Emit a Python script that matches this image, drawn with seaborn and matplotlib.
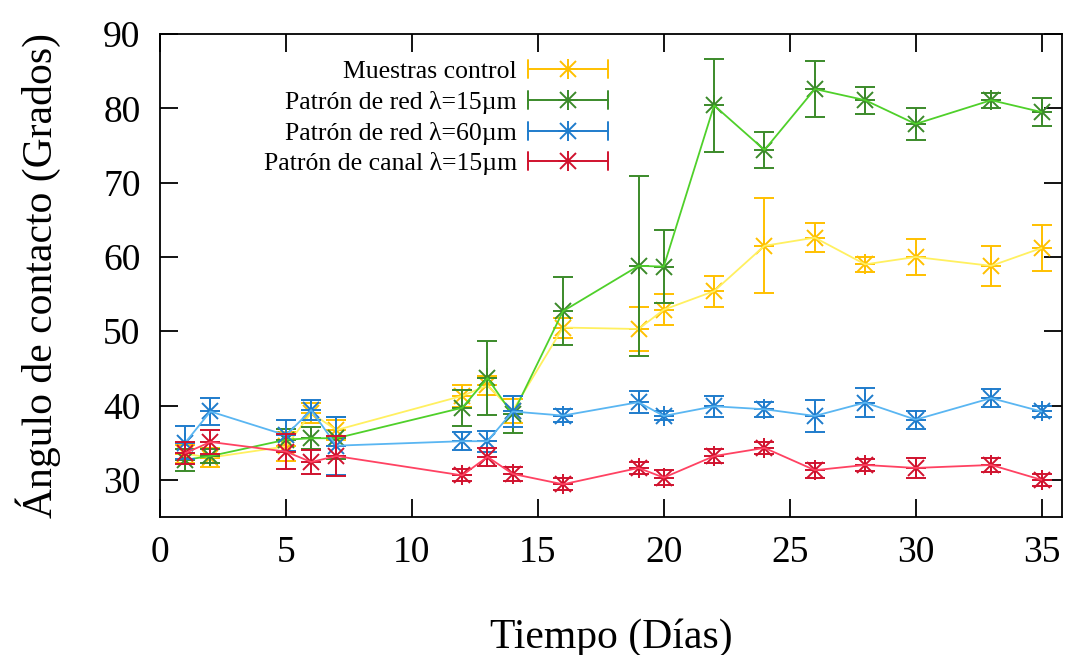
import matplotlib
matplotlib.use("Agg")
import numpy as np
import pandas as pd
import seaborn as sns
import matplotlib.pyplot as plt
from matplotlib.lines import Line2D
from matplotlib.legend_handler import HandlerBase

# ---------------- data ----------------
dias = [1, 2, 5, 6, 7, 12, 13, 14, 16, 19, 20, 22, 24, 26, 28, 30, 33, 35]

control_mean = [33.5, 33.0, 34.5, 39.0, 36.7, 41.3, 42.7, 39.3, 50.5, 50.3, 52.9, 55.4,
                61.5, 62.6, 59.0, 60.0, 58.8, 61.2]
control_err = [1.2, 1.25, 1.9, 1.4, 1.3, 1.5, 1.3, 1.6, 1.35, 2.95, 2.1, 2.1,
               6.4, 2.0, 1.0, 2.4, 2.7, 3.1]

red15_mean = [32.7, 33.2, 35.4, 35.6, 35.6, 39.7, 43.7, 38.8, 52.7, 58.8, 58.7, 80.4,
              74.4, 82.6, 81.1, 77.9, 81.1, 79.5]
red15_err = [1.5, 0.9, 1.5, 1.5, 2.8, 2.45, 5.0, 2.5, 4.6, 12.1, 4.9, 6.3,
             2.4, 3.8, 1.8, 2.2, 1.0, 1.9]

red60_mean = [35.0, 39.2, 36.0, 39.4, 34.6, 35.2, 35.2, 39.2, 38.65, 40.45, 38.6, 39.9,
              39.5, 38.6, 40.4, 38.1, 41.0, 39.2]
red60_err = [2.2, 1.8, 2.1, 1.3, 3.9, 1.2, 1.4, 2.1, 0.9, 1.5, 0.6, 1.45,
             1.0, 2.2, 2.0, 1.2, 1.2, 0.8]

canal15_mean = [33.6, 35.1, 33.8, 32.4, 33.2, 30.6, 33.1, 30.8, 29.4, 31.6, 30.3, 33.2,
                34.3, 31.3, 32.0, 31.6, 32.0, 30.0]
canal15_err = [1.5, 1.6, 2.4, 1.6, 2.7, 0.8, 1.2, 0.9, 0.8, 0.8, 1.0, 1.0,
               0.8, 1.0, 0.8, 1.4, 1.0, 0.8]

labels = ["Muestras control", "Patrón de red λ=15µm",
          "Patrón de red λ=60µm", "Patrón de canal λ=15µm"]
means = [control_mean, red15_mean, red60_mean, canal15_mean]
errs = [control_err, red15_err, red60_err, canal15_err]
marker_colors = ["#ffc000", "#3b8a2a", "#1f7ccc", "#d0122e"]
line_colors = ["#fff060", "#4fd02a", "#5ab6f2", "#ff4262"]

xticks = [0, 5, 10, 15, 20, 25, 30, 35]
yticks = [30, 40, 50, 60, 70, 80, 90]

# ---------------- style ----------------
sns.set_theme(style="ticks")
plt.rcParams["font.family"] = ["Liberation Serif", "DejaVu Serif"]
plt.rcParams["text.color"] = "black"
plt.rcParams["axes.labelcolor"] = "black"

fig = plt.figure(figsize=(10.67, 6.55), dpi=100)
ax = fig.add_axes([0.150, 0.2107, 0.845, 0.7373])

MS = 15
LW_ERR = 1.4

for i, (lab, m, e, mc, lc) in enumerate(zip(labels, means, errs, marker_colors, line_colors)):
    z = 2 + i
    ax.errorbar(dias, m, yerr=e, fmt="none", ecolor=mc, elinewidth=LW_ERR,
                capsize=7.5, capthick=LW_ERR, zorder=z)
    ax.plot(dias, m, ls="none", marker="+", ms=MS, mew=LW_ERR, color=mc, zorder=z)
    ax.plot(dias, m, ls="none", marker="x", ms=MS * 0.8, mew=LW_ERR, color=mc, zorder=z)
    df = pd.DataFrame({"dias": dias, "val": m})
    sns.lineplot(data=df, x="dias", y="val", color=lc, lw=1.3, ax=ax,
                 estimator=None, zorder=z + 0.5)


class HandlerErrStar(HandlerBase):
    def create_artists(self, legend, orig_handle, xdescent, ydescent, width, height,
                       fontsize, trans):
        c = orig_handle.get_color()
        yc = height / 2 - ydescent
        x0, x1 = -xdescent, width - xdescent
        cap = 6.5
        arts = [
            Line2D([x0, x1], [yc, yc], color=c, lw=LW_ERR),
            Line2D([x0, x0], [yc - cap, yc + cap], color=c, lw=LW_ERR),
            Line2D([x1, x1], [yc - cap, yc + cap], color=c, lw=LW_ERR),
            Line2D([(x0 + x1) / 2], [yc], marker="+", ms=MS, mew=LW_ERR, color=c, ls="none"),
            Line2D([(x0 + x1) / 2], [yc], marker="x", ms=MS * 0.8, mew=LW_ERR, color=c, ls="none"),
        ]
        for a in arts:
            a.set_transform(trans)
        return arts


handles = [Line2D([], [], color=mc) for mc in marker_colors]
leg = ax.legend(handles, labels, handler_map={Line2D: HandlerErrStar()},
                loc="upper right", bbox_to_anchor=(0.497, 0.946), frameon=False,
                markerfirst=False, fontsize=18.5, handlelength=3.1, labelspacing=0.3,
                handletextpad=0.45, borderaxespad=0, borderpad=0)
for t in leg.get_texts():
    t.set_color("black")

ax.set_xlim(0, 35.8)
ax.set_ylim(25, 90)
ax.set_xticks(xticks)
ax.set_yticks(yticks)
ax.tick_params(direction="in", length=13, width=1.3, top=True, right=True,
               labelsize=27, colors="black", labelcolor="black")
ax.tick_params(axis="y", pad=14)
ax.tick_params(axis="x", pad=13)
for s in ax.spines.values():
    s.set_linewidth(1.3)
    s.set_color("black")

ax.set_xlabel("Tiempo (Días)", fontsize=30, labelpad=35)
ax.set_ylabel("Ángulo de contacto (Grados)", fontsize=30, labelpad=30)

fig.savefig("out.png", dpi=100)
